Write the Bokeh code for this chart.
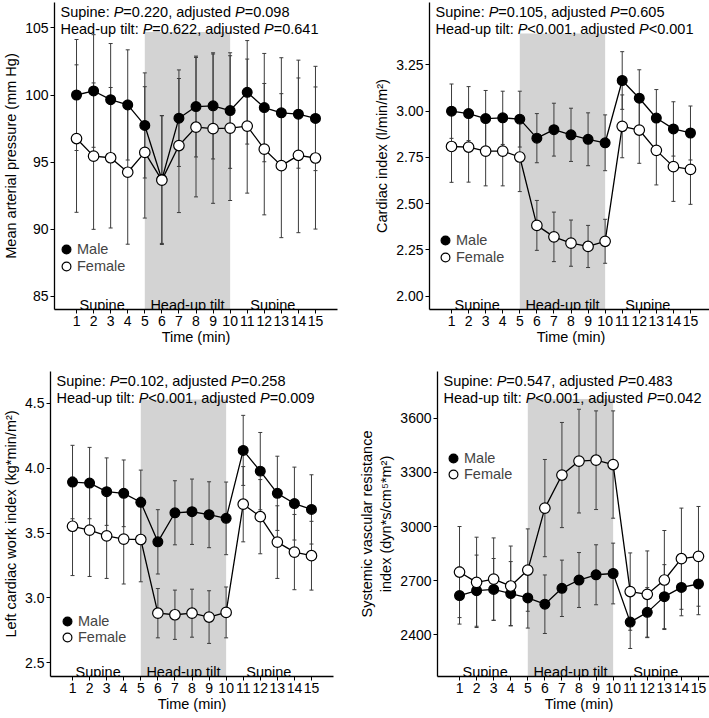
from bokeh.plotting import figure
from bokeh.layouts import column, row
from bokeh.models import (ColumnDataSource, FixedTicker, Range1d, Label, Legend, LegendItem)
from bokeh.embed import file_html
from bokeh.resources import INLINE

# ---------------- data ----------------
time = list(range(1, 16))
tilt_window = [5, 10]
phase_labels = ["Supine", "Head-up tilt", "Supine"]
phase_centers = [2.5, 7.5, 12.5]
panel_letters = ["A", "B", "C", "D"]

# A: mean arterial pressure (mm Hg)
map_male = [100.0, 100.3, 99.65, 99.26, 97.73, 93.7, 98.27, 99.14, 99.19, 98.84, 100.2, 99.06, 98.67, 98.57, 98.25]
map_male_sd = [4.14, 4.2, 4.19, 4.11, 3.92, 4.77, 3.6, 3.76, 3.96, 4.31, 3.86, 4.04, 4.11, 4.03, 3.89]
map_female = [96.75, 95.44, 95.32, 94.24, 95.72, 93.65, 96.23, 97.6, 97.49, 97.53, 97.68, 95.96, 94.73, 95.5, 95.3]
map_female_sd = [5.5, 5.46, 5.24, 5.37, 4.9, 4.8, 5.0, 5.2, 5.57, 5.4, 5.0, 4.9, 5.37, 5.77, 5.3]

# B: cardiac index (l/min/m2)
ci_male = [3.0, 2.987, 2.96, 2.964, 2.957, 2.854, 2.9, 2.872, 2.848, 2.829, 3.166, 3.07, 2.963, 2.904, 2.882]
ci_male_sd = [0.147, 0.146, 0.152, 0.144, 0.151, 0.133, 0.143, 0.144, 0.143, 0.151, 0.156, 0.154, 0.154, 0.147, 0.146]
ci_female = [2.809, 2.806, 2.784, 2.784, 2.752, 2.382, 2.32, 2.286, 2.268, 2.296, 2.918, 2.898, 2.788, 2.70, 2.685]
ci_female_sd = [0.194, 0.19, 0.188, 0.188, 0.187, 0.135, 0.134, 0.125, 0.114, 0.119, 0.17, 0.18, 0.187, 0.188, 0.189]

# C: left cardiac work index (kg*min/m2)
lcwi_male = [3.893, 3.885, 3.819, 3.806, 3.737, 3.432, 3.656, 3.664, 3.641, 3.613, 4.137, 3.977, 3.806, 3.727, 3.682]
lcwi_male_sd = [0.283, 0.275, 0.26, 0.257, 0.248, 0.248, 0.247, 0.252, 0.254, 0.28, 0.27, 0.298, 0.286, 0.281, 0.267]
lcwi_female = [3.552, 3.522, 3.478, 3.453, 3.45, 2.882, 2.87, 2.882, 2.852, 2.888, 3.722, 3.626, 3.43, 3.353, 3.325]
lcwi_female_sd = [0.38, 0.357, 0.328, 0.346, 0.326, 0.19, 0.19, 0.185, 0.203, 0.196, 0.29, 0.286, 0.28, 0.29, 0.265]

# D: systemic vascular resistance index (dyn*s/cm5*m2)
svri_male = [2618, 2645, 2652, 2629, 2605, 2570, 2658, 2704, 2733, 2740, 2471, 2525, 2612, 2663, 2682]
svri_male_sd = [158, 197, 171, 177, 167, 162, 156, 152, 166, 168, 146, 137, 177, 157, 170]
svri_female = [2748, 2691, 2709, 2671, 2759, 3102, 3285, 3362, 3367, 3343, 2640, 2625, 2704, 2822, 2835]
svri_female_sd = [252, 250, 228, 221, 228, 269, 291, 287, 273, 297, 214, 240, 274, 280, 276]

y_labels = ["Mean arterial pressure (mm Hg)",
            "Cardiac index (l/min/m\u00b2)",
            "Left cardiac work index (kg*min/m\u00b2)",
            "Systemic vascular resistance\nindex (dyn*s/cm\u2075*m\u00b2)"]
x_label = "Time (min)"
y_ticks = [[85, 90, 95, 100, 105],
           [2.00, 2.25, 2.50, 2.75, 3.00, 3.25],
           [2.5, 3.0, 3.5, 4.0, 4.5],
           [2400, 2700, 3000, 3300, 3600]]
y_tick_labels = [["85", "90", "95", "100", "105"],
                 ["2.00", "2.25", "2.50", "2.75", "3.00", "3.25"],
                 ["2.5", "3.0", "3.5", "4.0", "4.5"],
                 ["2400", "2700", "3000", "3300", "3600"]]
y_limits = [(84.0, 106.9), (1.927, 3.588), (2.394, 4.745), (2170, 3858)]
shade_tops = [104.7, 3.42, 4.53, 3706]

supine_p = ["=0.220", "=0.105", "=0.102", "=0.547"]
supine_adj = ["=0.098", "=0.605", "=0.258", "=0.483"]
tilt_p = ["=0.622", "<0.001", "<0.001", "<0.001"]
tilt_adj = ["=0.641", "<0.001", "=0.009", "=0.042"]

# ---------------- style / layout ----------------
FONT = "Liberation Sans"
FS = "14.5px"
FSN = 14.5
TICK_FS = "14px"
FW = [283, 283]
FH = [307, 305]
BL = [48, 69]
BR = [23, 2]
BT = [2, 24]
BB = 36
BAR_COLOR = "#3c3c3c"
SHADE = "#d3d3d3"
# legend marker centres (x from frame left, y from frame bottom) for male / female
legend_centers = [((12, 60), (12, 43)), ((16, 69), (16, 52)),
                  ((17, 55), (17, 39)), ((16, 218), (16, 202))]

# Arial / Liberation Sans advance widths (per 1000 em)
W = {' ': 278, ':': 278, ',': 278, '.': 278, '=': 584, '<': 584, '-': 333,
     'S': 667, 'H': 722, 'P': 667, 'u': 556, 'p': 556, 'i': 222, 'n': 556,
     'e': 556, 'a': 556, 'd': 556, 'j': 222, 's': 500, 't': 278, 'l': 222}
for dch in "0123456789":
    W[dch] = 556


def tw(s):
    return sum(W.get(c, 556) for c in s) * FSN / 1000.0


def header_line(p, y, parts):
    x = 6.0
    for txt, ital in parts:
        p.add_layout(Label(x=x, y=y, x_units="screen", y_units="screen", text=txt,
                           text_font=FONT, text_font_size=FS,
                           text_font_style="italic" if ital else "normal",
                           text_color="black", text_baseline="alphabetic",
                           text_align="left"))
        x += tw(txt)


series = [(map_male, map_male_sd, map_female, map_female_sd),
          (ci_male, ci_male_sd, ci_female, ci_female_sd),
          (lcwi_male, lcwi_male_sd, lcwi_female, lcwi_female_sd),
          (svri_male, svri_male_sd, svri_female, svri_female_sd)]


def make_panel(i):
    col = i % 2
    rw = i // 2
    fh = FH[rw]
    p = figure(frame_width=FW[col], frame_height=fh, output_backend="svg",
               toolbar_location=None,
               x_range=Range1d(-0.29, 16.29), y_range=Range1d(*y_limits[i]),
               min_border_left=BL[col], min_border_right=BR[col],
               min_border_top=BT[rw], min_border_bottom=BB)
    p.outline_line_color = None
    p.xgrid.visible = False
    p.ygrid.visible = False
    p.background_fill_color = "white"
    p.border_fill_color = "white"

    # shaded tilt window
    p.quad(left=[tilt_window[0]], right=[tilt_window[1]], bottom=[y_limits[i][0]],
           top=[shade_tops[i]], fill_color=SHADE, line_color=None, level="underlay")

    m, msd, f, fsd = series[i]
    srcm = ColumnDataSource(dict(x=time, y=m, lo=[a - b for a, b in zip(m, msd)],
                                 hi=[a + b for a, b in zip(m, msd)]))
    srcf = ColumnDataSource(dict(x=time, y=f, lo=[a - b for a, b in zip(f, fsd)],
                                 hi=[a + b for a, b in zip(f, fsd)]))
    for s in (srcm, srcf):
        p.segment(x0="x", y0="lo", x1="x", y1="hi", source=s, line_color=BAR_COLOR, line_width=1)
        p.scatter(x="x", y="lo", source=s, marker="dash", size=4, line_color=BAR_COLOR, line_width=1)
        p.scatter(x="x", y="hi", source=s, marker="dash", size=4, line_color=BAR_COLOR, line_width=1)
    p.line(x="x", y="y", source=srcm, line_color="black", line_width=1.3)
    p.line(x="x", y="y", source=srcf, line_color="black", line_width=1.3)
    rm = p.scatter(x="x", y="y", source=srcm, marker="circle", size=9.8,
                   fill_color="black", line_color="black", line_width=1.2)
    rf = p.scatter(x="x", y="y", source=srcf, marker="circle", size=10.5,
                   fill_color="white", line_color="black", line_width=1.2)

    # axes
    p.xaxis.ticker = FixedTicker(ticks=time)
    p.yaxis.ticker = FixedTicker(ticks=y_ticks[i])
    p.yaxis.major_label_overrides = {t: l for t, l in zip(y_ticks[i], y_tick_labels[i])}
    p.yaxis.axis_label = y_labels[i]
    p.xaxis.axis_label = x_label
    for ax in (p.xaxis[0], p.yaxis[0]):
        ax.axis_line_color = "black"
        ax.axis_line_width = 1.3
        ax.major_tick_line_color = "black"
        ax.major_tick_line_width = 1
        ax.major_tick_out = 4
        ax.major_tick_in = 0
        ax.minor_tick_out = 0
        ax.minor_tick_in = 0
        ax.major_label_text_font = FONT
        ax.major_label_text_font_size = TICK_FS
        ax.major_label_text_color = "black"
        ax.axis_label_text_font = FONT
        ax.axis_label_text_font_size = FS
        ax.axis_label_text_font_style = "normal"
        ax.axis_label_text_color = "black"
    p.xaxis.major_label_standoff = 2
    p.xaxis.axis_label_standoff = 0
    p.yaxis.major_label_standoff = 2
    p.yaxis.axis_label_standoff = 3

    # phase labels
    for txt, cx in zip(phase_labels, phase_centers):
        p.add_layout(Label(x=cx, y=5, x_units="data", y_units="screen", text=txt,
                           text_align="center", text_baseline="alphabetic",
                           text_font=FONT, text_font_size=FS, text_color="black"))

    # header
    header_line(p, fh - 9, [("Supine: ", False), ("P", True), (supine_p[i] + ", adjusted ", False),
                            ("P", True), (supine_adj[i], False)])
    header_line(p, fh - 26, [("Head-up tilt: ", False), ("P", True), (tilt_p[i] + ", adjusted ", False),
                             ("P", True), (tilt_adj[i], False)])

    # panel letter
    p.add_layout(Label(x=-44, y=fh - 9, x_units="screen", y_units="screen", text=panel_letters[i],
                       text_font=FONT, text_font_size="14px", text_font_style="bold",
                       text_baseline="alphabetic", text_align="left", text_color="black"))

    # legend: one single-item legend per series for exact placement
    for (cx, cy), lab, r in zip(legend_centers[i], ["Male", "Female"], [rm, rf]):
        leg = Legend(items=[LegendItem(label=lab, renderers=[r])],
                     location=(cx - 11, cy - 11), orientation="vertical",
                     glyph_width=22, glyph_height=22, spacing=0, label_standoff=0,
                     padding=0, margin=0, border_line_color=None,
                     background_fill_alpha=0, label_text_font=FONT,
                     label_text_font_size=FS, label_height=16)
        p.add_layout(leg)
    return p


panels = [make_panel(i) for i in range(4)]
layout = column(row(panels[0], panels[1]), row(panels[2], panels[3]))

open("out.html", "w").write(file_html(layout, INLINE))
